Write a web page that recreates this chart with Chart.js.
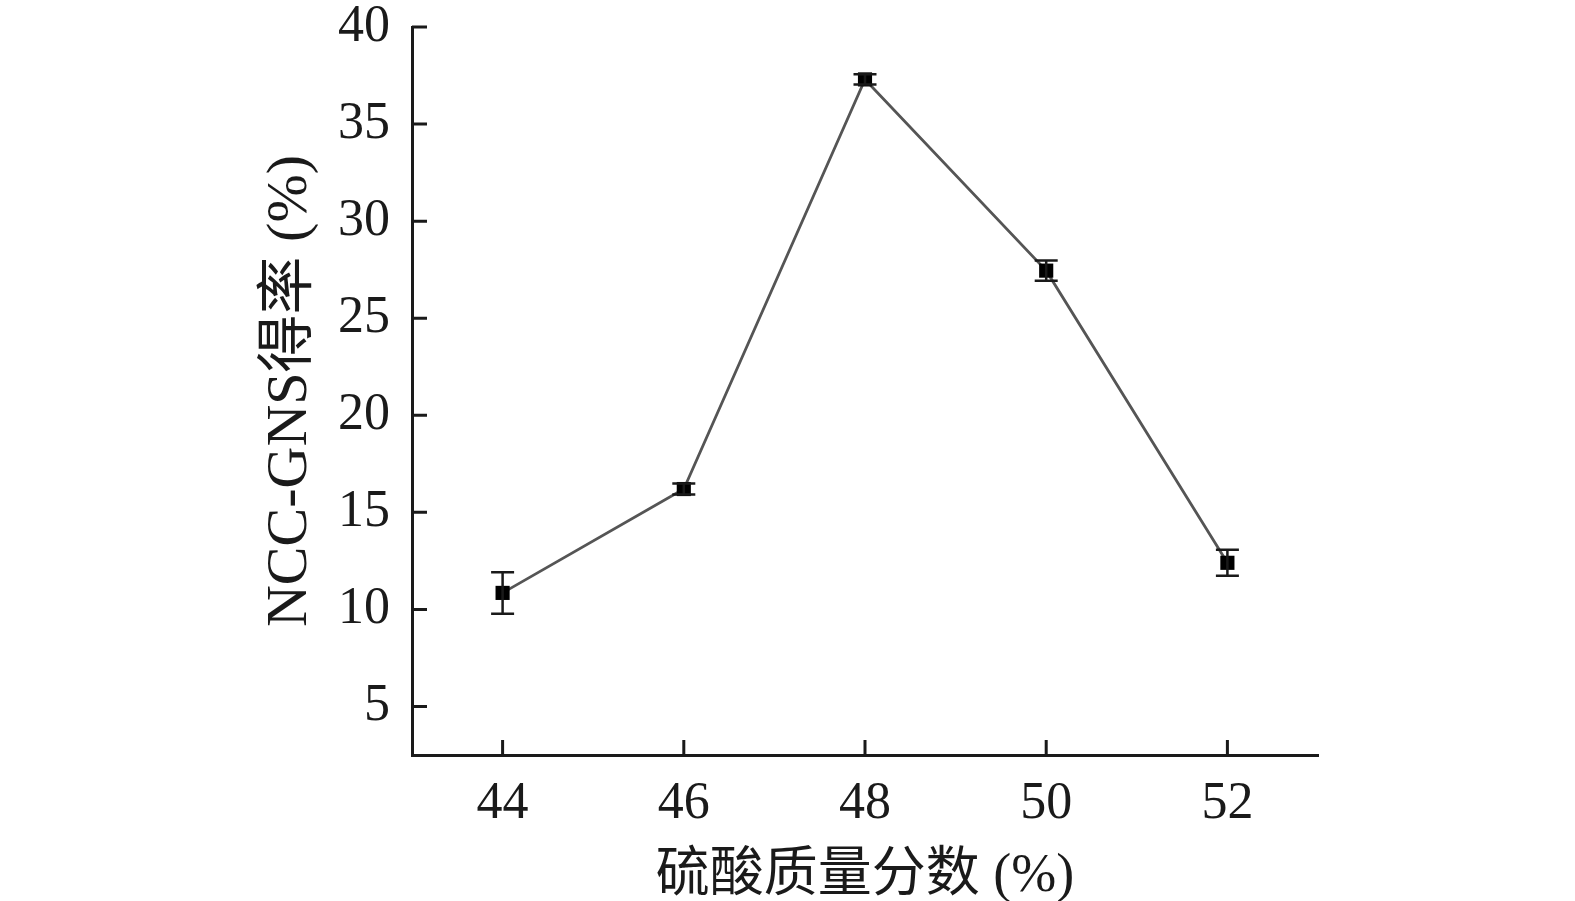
<!DOCTYPE html>
<html>
<head>
<meta charset="utf-8">
<script src="https://cdn.jsdelivr.net/npm/chart.js@4.4.1/dist/chart.umd.min.js"></script>
<style>
  html, body { margin: 0; padding: 0; background: #fff; }
  #wrap { width: 1575px; height: 901px; }
</style>
</head>
<body>
<div id="wrap"><canvas id="yieldChart" width="1575" height="901"></canvas></div>
<script>
// data
const acidConc = [44, 46, 48, 50, 52];
const yieldPct = [10.85, 16.2, 37.3, 27.45, 12.4];
const yieldErr = [1.07, 0.28, 0.26, 0.52, 0.67];
const xTicks = [44, 46, 48, 50, 52];
const yTicks = [5, 10, 15, 20, 25, 30, 35, 40];

const serif = "'Liberation Serif', 'Times New Roman', 'Noto Sans CJK SC', serif";
const ink = '#1a1a1a';

// inward tick marks + error bars, positioned through the scales
const extras = {
  id: 'extras',
  afterDatasetsDraw(chart) {
    const ctx = chart.ctx;
    const xs = chart.scales.x, ys = chart.scales.y;
    const area = chart.chartArea;
    ctx.save();
    ctx.strokeStyle = ink;
    ctx.lineWidth = 3;
    ctx.beginPath();
    xTicks.forEach(function(t){
      const px = xs.getPixelForValue(t);
      ctx.moveTo(px, area.bottom);
      ctx.lineTo(px, area.bottom - 15);
    });
    yTicks.forEach(function(t){
      const py = ys.getPixelForValue(t);
      ctx.moveTo(area.left, py);
      ctx.lineTo(area.left + 15, py);
    });
    ctx.stroke();

    ctx.lineWidth = 2.5;
    ctx.beginPath();
    acidConc.forEach(function(c, i){
      const px = xs.getPixelForValue(c);
      const top = ys.getPixelForValue(yieldPct[i] + yieldErr[i]);
      const bot = ys.getPixelForValue(yieldPct[i] - yieldErr[i]);
      ctx.moveTo(px, top); ctx.lineTo(px, bot);
      ctx.moveTo(px - 11.5, top); ctx.lineTo(px + 11.5, top);
      ctx.moveTo(px - 11.5, bot); ctx.lineTo(px + 11.5, bot);
    });
    ctx.stroke();
    ctx.restore();
  }
};

function renderChart(){
  const ctx = document.querySelector('#yieldChart').getContext('2d');
  new Chart(ctx, {
    type: 'line',
    data: {
      datasets: [{
        data: acidConc.map(function(c, i){ return { x: c, y: yieldPct[i] }; }),
        borderColor: '#555555',
        borderWidth: 2.8,
        pointStyle: 'rect',
        pointRadius: 10,
        pointBackgroundColor: '#000',
        pointBorderColor: '#000',
        pointBorderWidth: 0,
        tension: 0
      }]
    },
    options: {
      responsive: false,
      animation: false,
      events: [],
      layout: { padding: { left: 252, right: 257, top: 27, bottom: 0 } },
      plugins: { legend: { display: false }, tooltip: { enabled: false } },
      scales: {
        x: {
          type: 'linear',
          min: 43, max: 53,
          afterBuildTicks: function(s){ s.ticks = xTicks.map(function(v){ return { value: v }; }); },
          afterFit: function(s){ s.height = 146; },
          grid: { display: false, drawTicks: false },
          border: { display: true, color: ink, width: 3 },
          ticks: { color: ink, padding: 18, maxRotation: 0, font: { family: serif, size: 52 } },
          title: { display: true, text: '硫酸质量分数 (%)', color: ink, padding: { top: 4, bottom: -8 }, font: { family: serif, size: 54 } }
        },
        y: {
          min: 2.5, max: 40,
          afterBuildTicks: function(s){ s.ticks = yTicks.map(function(v){ return { value: v }; }); },
          afterFit: function(s){ s.width = 160; s.paddingTop = 0; s.paddingBottom = 0; },
          grid: { display: false, drawTicks: false },
          border: { display: true, color: ink, width: 3 },
          ticks: { color: ink, padding: 22, font: { family: serif, size: 52 } },
          title: { display: true, text: 'NCC-GNS得率 (%)', color: ink, font: { family: serif, size: 58 } }
        }
      }
    },
    plugins: [extras]
  });
}

renderChart();
</script>
</body>
</html>
